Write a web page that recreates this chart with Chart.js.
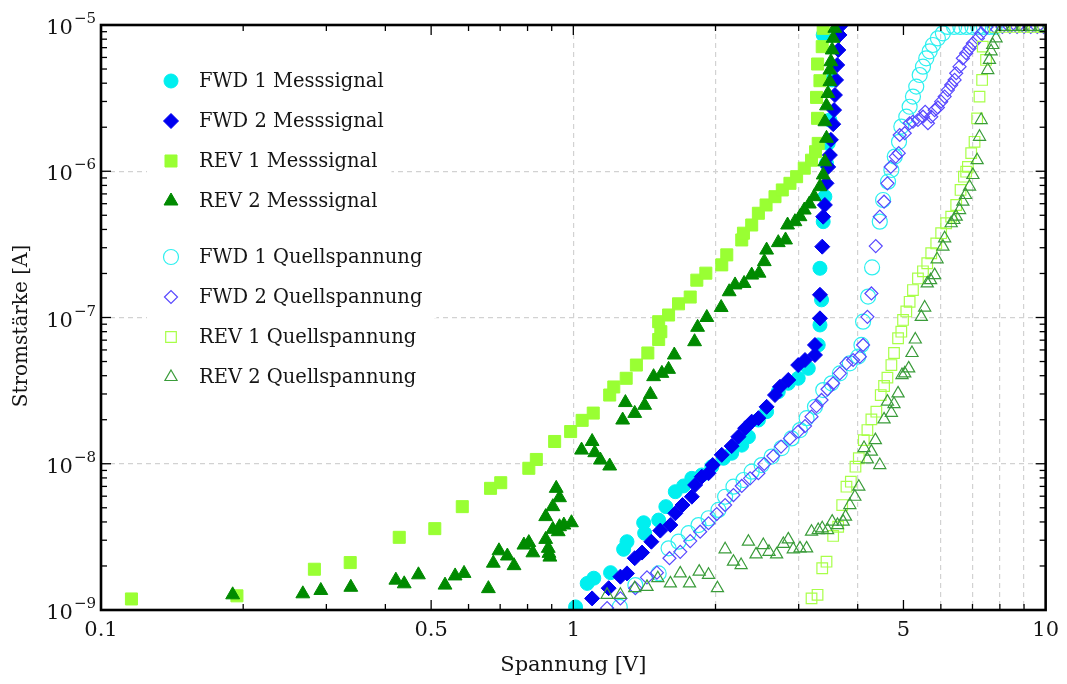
<!DOCTYPE html>
<html>
<head>
<meta charset="utf-8">
<script src="https://cdn.jsdelivr.net/npm/chart.js@4.4.1/dist/chart.umd.min.js"></script>
<style>
html,body{margin:0;padding:0;background:#fff;}
#wrap{position:relative;width:1067px;height:684px;}
</style>
</head>
<body>
<div id="wrap"><canvas id="c"></canvas></div>
<script>
// ---------- data (Spannung [V], Stromstärke [A]) ----------
const seriesNames = ['FWD 1 Messsignal','FWD 2 Messsignal','REV 1 Messsignal','REV 2 Messsignal',
  'FWD 1 Quellspannung','FWD 2 Quellspannung','REV 1 Quellspannung','REV 2 Quellspannung'];

const xTickValues = [0.1,0.2,0.3,0.4,0.5,0.6,0.7,0.8,0.9,1,2,3,4,5,6,7,8,9,10];
const xLabelValues = [0.1,0.5,1,5,10];
const xGridValues = [1,2,3,4,6,7,8,9];
const yDecades = [1e-9,1e-8,1e-7,1e-6,1e-5];
const yGridValues = [1e-8,1e-7,1e-6];

const fwd1Mess = [[1.011,1.05e-9],[1.07,1.52e-9],[1.105,1.65e-9],[1.199,1.80e-9],[1.278,2.60e-9],[1.299,2.93e-9],
  [1.409,3.95e-9],[1.416,3.35e-9],[1.516,4.12e-9],[1.570,5.09e-9],[1.644,6.44e-9],[1.712,7.05e-9],[1.782,7.95e-9],
  [1.871,8.38e-9],[1.964,9.55e-9],[2.079,1.09e-8],[2.164,1.18e-8],[2.273,1.34e-8],[2.348,1.53e-8],[2.465,1.99e-8],
  [2.566,2.27e-8],[2.716,3.11e-8],[2.852,3.55e-8],[2.993,3.84e-8],[3.144,4.49e-8],[3.300,6.49e-8],[3.328,8.89e-8],
  [3.354,1.32e-7],[3.328,2.17e-7],[3.381,4.52e-7],[3.409,6.70e-7],[3.436,1.13e-6],[3.464,1.55e-6],[3.493,2.24e-6],
  [3.532,4.21e-6],[3.381,8.55e-6]];

const fwd2Mess = [[1.096,1.20e-9],[1.188,1.41e-9],[1.258,1.69e-9],[1.299,1.78e-9],[1.349,2.26e-9],[1.398,2.47e-9],
  [1.463,2.93e-9],[1.528,3.49e-9],[1.605,3.81e-9],[1.644,4.58e-9],[1.703,5.22e-9],[1.782,5.95e-9],[1.811,7.16e-9],
  [1.871,8.16e-9],[1.933,8.61e-9],[1.973,9.80e-9],[2.062,1.15e-8],[2.164,1.32e-8],[2.236,1.53e-8],[2.311,1.75e-8],
  [2.386,1.94e-8],[2.465,2.05e-8],[2.566,2.45e-8],[2.673,2.95e-8],[2.739,3.36e-8],[2.852,3.74e-8],[2.993,4.73e-8],
  [3.094,5.12e-8],[3.248,5.54e-8],[3.248,6.49e-8],[3.328,9.87e-8],[3.328,1.43e-7],[3.365,3.05e-7],[3.381,4.89e-7],
  [3.409,5.88e-7],[3.436,8.27e-7],[3.464,1.07e-6],[3.493,1.29e-6],[3.51,1.64e-6],[3.55,2.10e-6],[3.565,2.62e-6],
  [3.58,3.32e-6],[3.60,4.21e-6],[3.62,5.33e-6],[3.64,6.75e-6],[3.66,8.55e-6],[3.67,9.8e-6]];

const rev1Mess = [[0.116,1.19e-9],[0.194,1.25e-9],[0.283,1.90e-9],[0.337,2.11e-9],[0.428,3.14e-9],[0.509,3.60e-9],
  [0.582,5.09e-9],[0.668,6.79e-9],[0.702,7.42e-9],[0.805,9.31e-9],[0.835,1.07e-8],[0.913,1.42e-8],[0.987,1.66e-8],
  [1.044,1.98e-8],[1.102,2.22e-8],[1.194,2.95e-8],[1.218,3.35e-8],[1.294,3.84e-8],[1.360,4.73e-8],[1.438,5.72e-8],
  [1.516,7.07e-8],[1.532,8.0e-8],[1.516,9.36e-8],[1.591,1.04e-7],[1.670,1.24e-7],[1.768,1.38e-7],[1.826,1.80e-7],
  [1.908,2.01e-7],[2.062,2.29e-7],[2.113,2.68e-7],[2.273,3.39e-7],[2.292,3.77e-7],[2.386,4.29e-7],[2.465,5.16e-7],
  [2.559,5.88e-7],[2.673,6.70e-7],[2.770,7.45e-7],[2.875,8.27e-7],[2.970,9.18e-7],[3.083,1.05e-6],[3.194,1.19e-6],
  [3.257,1.36e-6],[3.300,1.55e-6],[3.289,2.30e-6],[3.273,3.20e-6],[3.29,5.41e-6],[3.328,4.16e-6],[3.365,7.11e-6],
  [3.381,9.49e-6]];

const rev2Mess = [[0.190,1.27e-9],[0.2675,1.29e-9],[0.292,1.36e-9],[0.338,1.43e-9],[0.421,1.60e-9],[0.4385,1.51e-9],
  [0.470,1.74e-9],[0.535,1.48e-9],[0.562,1.71e-9],[0.587,1.78e-9],[0.661,1.40e-9],[0.677,2.09e-9],[0.696,2.54e-9],
  [0.725,2.34e-9],[0.749,2.01e-9],[0.786,2.78e-9],[0.805,2.89e-9],[0.821,2.46e-9],[0.874,3.04e-9],[0.885,2.64e-9],
  [0.888,2.44e-9],[0.892,2.30e-9],[0.874,4.35e-9],[0.905,5.09e-9],[0.935,5.86e-9],[0.920,6.79e-9],[0.905,3.56e-9],
  [0.935,3.71e-9],[0.955,3.81e-9],[0.991,3.95e-9],[0.929,3.43e-9],[1.041,1.24e-8],[1.096,1.42e-8],[1.110,1.19e-8],
  [1.141,1.06e-8],[1.194,9.65e-9],[1.272,1.99e-8],[1.289,2.62e-8],[1.349,2.21e-8],[1.416,2.51e-8],[1.456,2.98e-8],
  [1.479,3.94e-8],[1.540,4.15e-8],[1.591,4.42e-8],[1.636,5.54e-8],[1.806,6.83e-8],[1.833,8.57e-8],[1.917,1.00e-7],
  [2.056,1.17e-7],[2.138,1.50e-7],[2.200,1.67e-7],[2.299,1.71e-7],[2.386,1.95e-7],[2.473,2.01e-7],[2.537,2.41e-7],
  [2.566,2.89e-7],[2.716,3.25e-7],[2.814,3.39e-7],[2.842,4.29e-7],[2.946,4.52e-7],[3.019,4.89e-7],[3.083,5.43e-7],
  [3.160,5.97e-7],[3.236,6.70e-7],[3.328,7.84e-7],[3.381,9.43e-7],[3.409,1.16e-6],[3.436,1.68e-6],[3.409,2.18e-6],
  [3.436,2.8e-6],[3.46,3.4e-6],[3.493,4.10e-6],[3.493,4.92e-6],[3.510,5.61e-6],[3.532,6.75e-6],[3.549,8.11e-6],
  [3.578,9.49e-6]];

const fwd1Quell = [[1.254,1.05e-9],[1.353,1.48e-9],[1.516,1.78e-9],[1.591,2.64e-9],[1.670,2.93e-9],[1.754,3.35e-9],
  [1.841,3.81e-9],[1.933,4.24e-9],[2.029,4.83e-9],[2.096,5.95e-9],[2.183,6.97e-9],[2.292,7.74e-9],[2.386,8.83e-9],
  [2.504,9.80e-9],[2.630,1.12e-8],[2.761,1.28e-8],[2.898,1.49e-8],[3.019,1.70e-8],[3.118,2.05e-8],[3.248,2.45e-8],
  [3.381,3.19e-8],[3.521,3.55e-8],[3.667,4.15e-8],[3.850,4.86e-8],[4.009,5.40e-8],[4.074,6.49e-8],[4.107,9.36e-8],
  [4.208,1.39e-7],[4.291,2.20e-7],[4.455,4.52e-7],[4.527,6.36e-7],[4.638,8.48e-7],[4.714,1.02e-6],[4.792,1.26e-6],
  [4.893,1.59e-6],[4.948,2.02e-6],[5.07,2.36e-6],[5.153,2.76e-6],[5.237,3.24e-6],[5.322,3.79e-6],[5.412,4.55e-6],
  [5.499,5.19e-6],[5.588,5.92e-6],[5.681,6.61e-6],[5.772,7.30e-6],[5.914,8.11e-6],[6.06,8.77e-6],[6.2,9.7e-6],
  [6.4,9.7e-6],[6.6,9.7e-6],[6.8,9.7e-6],[7.0,9.7e-6],[7.2,9.7e-6],[7.4,9.7e-6],[7.6,9.7e-6],[7.8,9.7e-6]];

const fwd2Quell = [[1.179,1.03e-9],[1.258,1.20e-9],[1.353,1.41e-9],[1.432,1.67e-9],[1.503,1.80e-9],[1.598,2.26e-9],
  [1.684,2.50e-9],[1.768,2.96e-9],[1.856,3.43e-9],[1.933,3.92e-9],[2.012,4.53e-9],[2.096,5.22e-9],[2.183,6.11e-9],
  [2.273,7.05e-9],[2.367,7.95e-9],[2.465,8.61e-9],[2.537,9.96e-9],[2.651,1.13e-8],[2.753,1.31e-8],[2.875,1.49e-8],
  [2.993,1.66e-8],[3.094,1.81e-8],[3.194,2.10e-8],[3.273,2.48e-8],[3.354,2.73e-8],[3.453,3.23e-8],[3.549,3.55e-8],
  [3.667,4.15e-8],[3.787,4.86e-8],[3.912,5.12e-8],[4.043,5.40e-8],[4.107,6.49e-8],[4.194,1.01e-7],[4.277,1.46e-7],
  [4.368,3.08e-7],[4.455,4.89e-7],[4.549,6.19e-7],[4.624,8.27e-7],[4.699,1.07e-6],[4.815,1.26e-6],[4.886,1.33e-6],
  [4.910,1.77e-6],[5.031,1.82e-6],[5.153,2.13e-6],[5.237,2.18e-6],[5.366,2.24e-6],[5.499,2.36e-6],[5.559,2.55e-6],
  [5.634,2.13e-6],[5.725,2.36e-6],[5.821,2.62e-6],[5.914,2.73e-6],[6.009,2.99e-6],[6.112,3.24e-6],[6.209,3.59e-6],
  [6.31,3.89e-6],[6.416,4.21e-6],[6.466,4.68e-6],[6.573,5.19e-6],[6.680,5.92e-6],[6.788,6.41e-6],[6.901,6.93e-6],
  [7.014,7.50e-6],[7.186,8.11e-6],[7.303,8.77e-6],[7.5,9.7e-6],[7.8,9.7e-6],[8.1,9.7e-6],[8.4,9.7e-6],[8.7,9.7e-6],
  [9.0,9.7e-6],[9.3,9.7e-6],[9.6,9.7e-6],[9.9,9.7e-6]];

const rev1Quell = [[3.194,1.20e-9],[3.289,1.27e-9],[3.365,1.93e-9],[3.436,2.14e-9],[3.549,3.21e-9],[3.637,3.71e-9],
  [3.709,5.22e-9],[3.787,6.97e-9],[3.869,7.54e-9],[3.957,9.55e-9],[4.022,1.09e-8],[4.121,1.45e-8],[4.194,1.70e-8],
  [4.276,2.01e-8],[4.381,2.27e-8],[4.476,2.95e-8],[4.549,3.40e-8],[4.624,3.88e-8],[4.714,4.73e-8],[4.775,5.72e-8],
  [4.87,7.21e-8],[4.948,8.0e-8],[4.99,9.62e-8],[5.07,1.10e-7],[5.153,1.28e-7],[5.237,1.54e-7],[5.366,1.85e-7],
  [5.499,2.07e-7],[5.615,2.35e-7],[5.725,2.75e-7],[5.867,3.21e-7],[6.009,3.77e-7],[6.157,4.41e-7],[6.31,4.89e-7],
  [6.466,5.88e-7],[6.605,7.45e-7],[6.713,9.18e-7],[6.788,9.93e-7],[6.845,1.07e-6],[6.956,1.33e-6],[7.071,1.59e-6],
  [7.161,2.30e-6],[7.244,3.24e-6],[7.337,4.21e-6],[7.479,5.77e-6],[7.36,7.11e-6],[7.8,9.7e-6],[8.2,9.7e-6],
  [8.6,9.7e-6],[9.0,9.7e-6],[9.4,9.7e-6],[9.8,9.7e-6]];

const rev2Quell = [[1.179,1.27e-9],[1.258,1.27e-9],[1.349,1.41e-9],[1.432,1.44e-9],[1.510,1.65e-9],[1.605,1.52e-9],
  [1.684,1.78e-9],[1.762,1.52e-9],[1.847,1.83e-9],[1.933,1.74e-9],[2.019,1.41e-9],[2.096,2.60e-9],[2.183,2.14e-9],
  [2.266,2.03e-9],[2.348,2.93e-9],[2.437,2.40e-9],[2.525,2.78e-9],[2.596,2.50e-9],[2.694,2.40e-9],[2.784,2.83e-9],
  [2.852,3.04e-9],[2.922,2.60e-9],[3.019,2.64e-9],[3.118,2.64e-9],[3.194,3.43e-9],[3.300,3.52e-9],[3.365,3.62e-9],
  [3.453,3.52e-9],[3.532,4.02e-9],[3.625,3.81e-9],[3.727,4.02e-9],[3.77,4.35e-9],[3.85,5.22e-9],[3.945,5.95e-9],
  [4.022,6.97e-9],[4.455,9.80e-9],[4.194,1.07e-8],[4.276,1.21e-8],[4.126,1.28e-8],[4.36,1.45e-8],[4.549,2.01e-8],
  [4.714,2.23e-8],[4.624,2.66e-8],[4.775,2.56e-8],[4.87,3.03e-8],[4.965,4.04e-8],[5.031,4.15e-8],[5.129,4.49e-8],
  [5.212,5.72e-8],[5.297,7.07e-8],[5.454,1.01e-7],[5.545,1.17e-7],[5.615,1.71e-7],[5.707,1.80e-7],[5.821,1.95e-7],
  [5.891,2.50e-7],[6.06,3.05e-7],[6.112,3.48e-7],[6.31,4.41e-7],[6.393,4.64e-7],[6.466,4.89e-7],[6.573,5.43e-7],
  [6.68,6.19e-7],[6.767,6.88e-7],[6.901,7.84e-7],[7.014,9.43e-7],[7.161,1.19e-6],[7.244,1.72e-6],[7.303,2.24e-6],
  [7.542,4.92e-6],[7.605,5.77e-6],[7.666,6.61e-6],[7.727,7.30e-6],[7.852,8.11e-6],[8.1,9.7e-6],[8.5,9.7e-6],
  [8.9,9.7e-6],[9.3,9.7e-6],[9.7,9.7e-6]];

// ---------- styles ----------
const FONT = '"DejaVu Serif", "Liberation Serif", serif';
const TEXT = '#151515';
const styles = [
  {shape:'circle',  r:7,   color:'#00EFEF', filled:true,  order:8},
  {shape:'rectRot', r:7.5, color:'#0000F0', filled:true,  order:7},
  {shape:'rect',    r:8.5, color:'#99FF33', filled:true,  order:6},
  {shape:'triangle',r:8,   color:'#008A00', filled:true,  order:5},
  {shape:'circle',  r:7.5, color:'#2EF0F0', filled:false, order:4},
  {shape:'rectRot', r:6.5, color:'#5848FF', filled:false, order:3},
  {shape:'rect',    r:7.5, color:'#A8FF48', filled:false, order:2},
  {shape:'triangle',r:7,   color:'#3A9C3A', filled:false, order:1}
];
const seriesData = [fwd1Mess, fwd2Mess, rev1Mess, rev2Mess, fwd1Quell, fwd2Quell, rev1Quell, rev2Quell];

const datasets = seriesData.map((arr, i) => ({
  label: seriesNames[i],
  data: arr.map(p => ({x: p[0], y: p[1]})),
  showLine: false,
  pointStyle: styles[i].shape,
  pointRadius: styles[i].r,
  pointHoverRadius: styles[i].r,
  pointBorderWidth: styles[i].filled ? 1 : 1.2,
  pointBackgroundColor: styles[i].filled ? styles[i].color : 'rgba(0,0,0,0)',
  pointBorderColor: styles[i].color,
  order: styles[i].order
}));

const near = (a, b) => Math.abs(Math.log10(a) - Math.log10(b)) < 1e-6;

function marker(ctx, shape, x, y, r) {
  ctx.beginPath();
  if (shape === 'circle') ctx.arc(x, y, r, 0, Math.PI * 2);
  else if (shape === 'rectRot') { ctx.moveTo(x - r, y); ctx.lineTo(x, y - r); ctx.lineTo(x + r, y); ctx.lineTo(x, y + r); ctx.closePath(); }
  else if (shape === 'rect') { const s = r * Math.SQRT1_2; ctx.rect(x - s, y - s, 2 * s, 2 * s); }
  else { ctx.moveTo(x, y - r); ctx.lineTo(x + 0.866 * r, y + 0.5 * r); ctx.lineTo(x - 0.866 * r, y + 0.5 * r); ctx.closePath(); }
}

const decor = {
  id: 'decor',
  afterDatasetsDraw(chart) {
    const {ctx, chartArea: {left, right, top, bottom}, scales: {x, y}} = chart;
    ctx.save();
    // inline legend
    const rows = [82, 122, 162, 202, 258, 298, 338, 378];
    ctx.font = '19.5px ' + FONT;
    chart.data.datasets.forEach((ds, i) => {
      const w = ctx.measureText(ds.label).width;
      ctx.fillStyle = '#fff';
      ctx.fillRect(147, rows[i] - 20, 199 + w + 14 - 147, 40);
    });
    chart.data.datasets.forEach((ds, i) => {
      const st = styles[i];
      marker(ctx, st.shape, 171, rows[i] - 1, st.r);
      if (st.filled) { ctx.fillStyle = st.color; ctx.fill(); }
      ctx.lineWidth = st.filled ? 1 : 1.2;
      ctx.strokeStyle = st.color; ctx.stroke();
      ctx.fillStyle = TEXT;
      ctx.textBaseline = 'middle';
      ctx.textAlign = 'left';
      ctx.fillText(ds.label, 199, rows[i]);
    });
    // ticks
    ctx.strokeStyle = '#000';
    ctx.lineWidth = 1.3;
    const line = (a, b, c, d) => { ctx.beginPath(); ctx.moveTo(a, b); ctx.lineTo(c, d); ctx.stroke(); };
    xTickValues.forEach(v => {
      if (near(v, 0.1) || near(v, 10)) return;
      const px = x.getPixelForValue(v);
      const len = (near(v, 0.5) || near(v, 1) || near(v, 5)) ? 10 : 6;
      line(px, bottom, px, bottom - len);
      line(px, top, px, top + len);
    });
    yDecades.forEach((d, k) => {
      if (k === yDecades.length - 1) return;
      for (let m = 1; m <= 9; m++) {
        if (m === 1 && k === 0) continue;
        const py = y.getPixelForValue(d * m);
        const len = m === 1 ? 10 : 6;
        line(left, py, left + len, py);
        line(right, py, right - len, py);
      }
    });
    // frame
    ctx.lineWidth = 2.6;
    ctx.strokeRect(left, top, right - left, bottom - top);
    ctx.restore();
  },
  afterDraw(chart) {
    const {ctx, chartArea: {top, bottom}, scales: {y}} = chart;
    ctx.save();
    ctx.fillStyle = TEXT;
    ctx.textBaseline = 'alphabetic';
    yDecades.forEach(v => {
      const py = y.getPixelForValue(v);
      const e = Math.round(Math.log10(v));
      const expText = (e < 0 ? '\u2212' : '') + Math.abs(e);
      ctx.font = '15px ' + FONT;
      const ew = ctx.measureText(expText).width;
      const x0 = 96 - ew;
      ctx.textAlign = 'left';
      ctx.fillText(expText, x0, py - 2);
      ctx.font = '21px ' + FONT;
      ctx.textAlign = 'right';
      ctx.fillText('10', x0 - 1, py + 9);
    });
    // y title
    ctx.font = '20px ' + FONT;
    ctx.translate(22, 326);
    ctx.rotate(-Math.PI / 2);
    ctx.textAlign = 'center';
    ctx.textBaseline = 'middle';
    ctx.fillText('Stromstärke [A]', 0, 0);
    ctx.restore();
  }
};

new Chart(document.getElementById('c'), {
  type: 'scatter',
  data: {datasets},
  options: {
    responsive: true,
    maintainAspectRatio: false,
    animation: false,
    events: [],
    devicePixelRatio: 1,
    layout: {padding: {left: 0, right: 19, top: 25, bottom: 0}},
    plugins: {legend: {display: false}, tooltip: {enabled: false}},
    scales: {
      x: {
        type: 'logarithmic', min: 0.1, max: 10,
        afterBuildTicks: s => { s.ticks = xTickValues.map(v => ({value: v})); },
        afterFit: s => { s.height = 74; },
        ticks: {
          autoSkip: false, maxRotation: 0, padding: 8, color: TEXT,
          font: {family: FONT, size: 21},
          callback: v => xLabelValues.some(l => near(l, v)) ? String(v) : ''
        },
        grid: {
          drawTicks: false, lineWidth: 1.2,
          color: c => (c.tick && xGridValues.some(g => near(g, c.tick.value))) ? '#d2d2d2' : 'rgba(0,0,0,0)'
        },
        border: {display: false, dash: [5, 4]},
        title: {display: true, text: 'Spannung [V]', color: TEXT, font: {family: FONT, size: 21}, padding: {top: 0, bottom: 6}}
      },
      y: {
        type: 'logarithmic', min: 1e-9, max: 1e-5,
        afterBuildTicks: s => { s.ticks = yDecades.map(v => ({value: v})); },
        afterFit: s => { s.width = 101; },
        ticks: {display: false},
        grid: {
          drawTicks: false, lineWidth: 1.2,
          color: c => (c.tick && yGridValues.some(g => near(g, c.tick.value))) ? '#d2d2d2' : 'rgba(0,0,0,0)'
        },
        border: {display: false, dash: [5, 4]},
        title: {display: false}
      }
    }
  },
  plugins: [decor]
});
</script>
</body>
</html>
